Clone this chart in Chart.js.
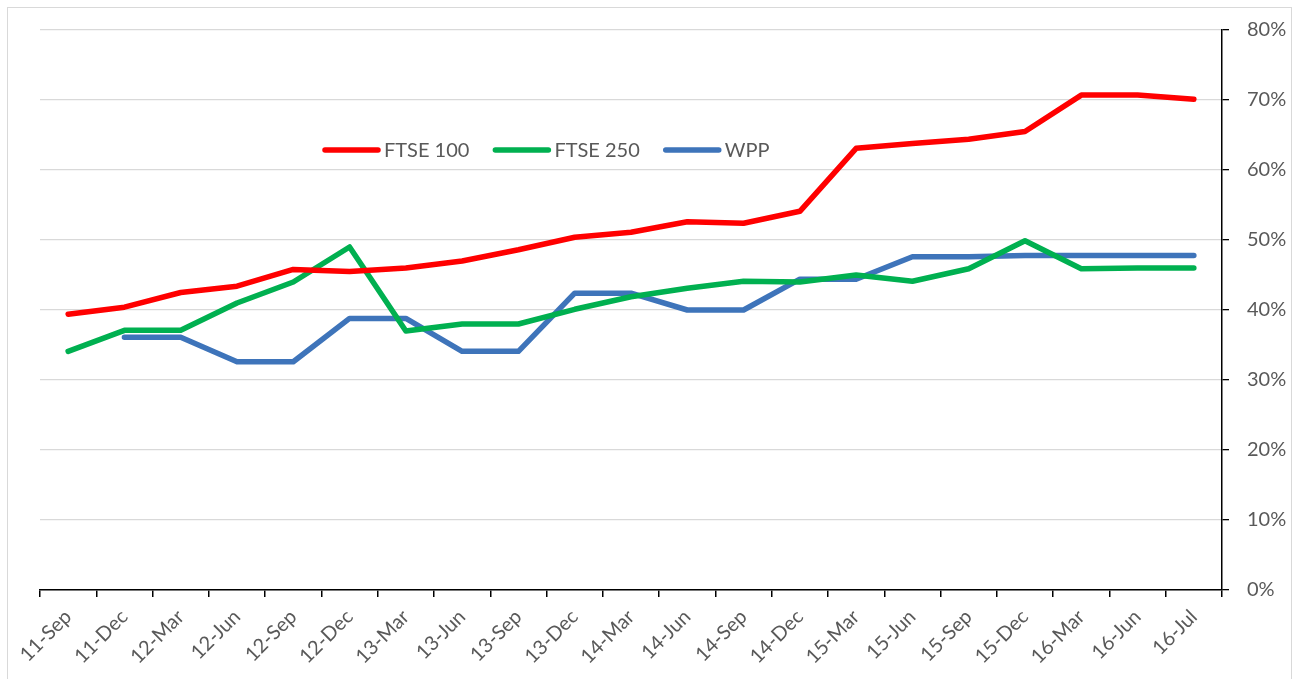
<!DOCTYPE html>
<html>
<head>
<meta charset="utf-8">
<script src="https://cdn.jsdelivr.net/npm/chart.js@4.4.0/dist/chart.umd.min.js"></script>
<style>
  html, body { margin: 0; padding: 0; background: #fff; }
  canvas { display: block; }
</style>
</head>
<body>
<canvas id="chart" width="1306" height="679"></canvas>
<script>
// quarter labels along the bottom
var quarters = [
  "11-Sep", "11-Dec", "12-Mar", "12-Jun", "12-Sep", "12-Dec", "13-Mar",
  "13-Jun", "13-Sep", "13-Dec", "14-Mar", "14-Jun", "14-Sep", "14-Dec",
  "15-Mar", "15-Jun", "15-Sep", "15-Dec", "16-Mar", "16-Jun", "16-Jul"
];

// values in percent
var ftse100 = [39.4, 40.4, 42.5, 43.4, 45.8, 45.5, 46.0, 47.0, 48.6, 50.4, 51.1,
  52.6, 52.4, 54.1, 63.1, 63.8, 64.4, 65.5, 70.7, 70.7, 70.1];
var ftse250 = [34.1, 37.1, 37.1, 41.0, 44.0, 49.0, 37.0, 38.0, 38.0, 40.1, 41.9,
  43.1, 44.1, 44.0, 45.0, 44.1, 45.9, 49.9, 45.9, 46.0, 46.0];
var wpp = [null, 36.1, 36.1, 32.6, 32.6, 38.8, 38.8, 34.1, 34.1, 42.4, 42.4,
  40.0, 40.0, 44.4, 44.4, 47.6, 47.6, 47.8, 47.8, 47.8, 47.8];

var yTicks = [0, 10, 20, 30, 40, 50, 60, 70, 80];

var textColor = "#595959";
var fontFamily = "Lato, 'Open Sans', sans-serif";

function series(label, data, color) {
  return {
    label: label,
    data: data,
    borderColor: color,
    backgroundColor: color,
    borderWidth: 5.5,
    borderCapStyle: "round",
    borderJoinStyle: "round",
    pointRadius: 0,
    pointHoverRadius: 0,
    tension: 0,
    fill: false
  };
}

// legend drawn inside the plot, like the original
var innerLegend = {
  id: "innerLegend",
  afterDraw: function(chart, args, opts) {
    var ctx = chart.ctx;
    var x = opts.x;
    var y = opts.y;
    ctx.save();
    ctx.font = "20px " + fontFamily;
    ctx.textBaseline = "middle";
    ctx.textAlign = "left";
    chart.data.datasets.forEach(function(ds) {
      ctx.strokeStyle = ds.borderColor;
      ctx.lineWidth = 5.5;
      ctx.lineCap = "round";
      ctx.beginPath();
      ctx.moveTo(x, y);
      ctx.lineTo(x + 53, y);
      ctx.stroke();
      x += 59;
      ctx.fillStyle = textColor;
      ctx.fillText(ds.label, x, y + 1);
      x += ctx.measureText(ds.label).width + 26;
    });
    ctx.restore();
  }
};

var frame = {
  id: "frame",
  beforeDraw: function(chart) {
    var ctx = chart.ctx;
    ctx.save();
    ctx.strokeStyle = "#d9d9d9";
    ctx.lineWidth = 1;
    ctx.strokeRect(7.5, 7.5, 1284, 700);
    ctx.restore();
  }
};

var ctx = document.getElementById("chart").getContext("2d");
var chart = new Chart(ctx, {
  type: "line",
  data: {
    labels: quarters,
    datasets: [
      series("FTSE 100", ftse100, "#ff0000"),
      series("FTSE 250", ftse250, "#00b050"),
      series("WPP", wpp, "#3e74ba")
    ]
  },
  plugins: [frame, innerLegend],
  options: {
    responsive: false,
    animation: false,
    events: [],
    layout: {
      padding: { left: 40, top: 28, right: 0, bottom: 0 }
    },
    plugins: {
      legend: { display: false },
      tooltip: { enabled: false },
      innerLegend: { x: 325, y: 150 }
    },
    scales: {
      x: {
        offset: true,
        afterFit: function(s) { s.height = 89; },
        grid: {
          offset: true,
          drawOnChartArea: false,
          color: "#000",
          tickLength: 7,
          lineWidth: 1.5
        },
        border: { color: "#000", width: 1.5 },
        ticks: {
          color: textColor,
          font: { family: fontFamily, size: 20 },
          minRotation: 45,
          maxRotation: 45,
          autoSkip: false,
          padding: 8
        }
      },
      y: {
        position: "right",
        min: 0,
        max: 80,
        afterFit: function(s) { s.width = 84; },
        afterBuildTicks: function(s) {
          s.ticks = yTicks.map(function(v) { return { value: v }; });
        },
        grid: {
          color: "#d9d9d9",
          lineWidth: 1.3,
          tickColor: "#000",
          tickLength: 7
        },
        border: { color: "#000", width: 1.5 },
        ticks: {
          color: textColor,
          font: { family: fontFamily, size: 20 },
          padding: 18,
          callback: function(v) { return v + "%"; }
        }
      }
    }
  }
});
</script>
</body>
</html>
